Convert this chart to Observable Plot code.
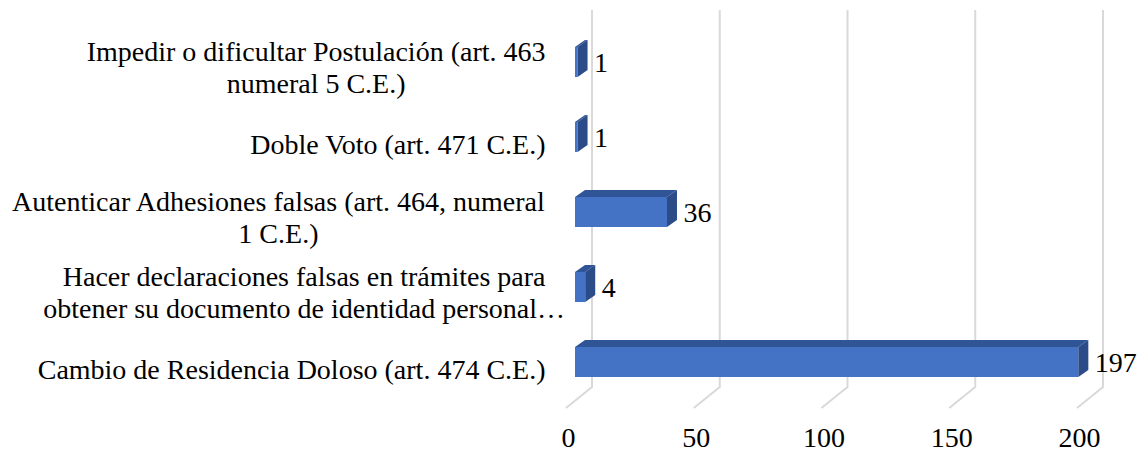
<!DOCTYPE html>
<html><head><meta charset="utf-8">
<script src="https://cdn.jsdelivr.net/npm/d3@7"></script>
<script src="https://cdn.jsdelivr.net/npm/@observablehq/plot@0.6"></script>
<style>html,body{margin:0;padding:0;background:#fff} svg{display:block} svg text{font-family:'Liberation Serif','Times New Roman',serif}</style>
</head><body><div id="chart"></div>
<script>
const categories = [
  "Impedir o dificultar Postulación (art. 463\nnumeral 5 C.E.)",
  "Doble Voto (art. 471 C.E.)",
  "Autenticar Adhesiones falsas (art. 464, numeral\n1 C.E.)",
  "Hacer declaraciones falsas en trámites para\nobtener su documento de identidad personal…",
  "Cambio de Residencia Doloso (art. 474 C.E.)"
];
const values = [1, 1, 36, 4, 197];
const xTicks = [0, 50, 100, 150, 200];

const data = categories.map((c, i) => ({category: c, value: values[i]}));

const FONT = "'Liberation Serif', 'Times New Roman', serif";
const FS = 28;
const FRONT = "#4472C4", TOP = "#2F5597", SIDE = "#2B4C88", GRID = "#D9D9D9";
const BAR_DX = 9;          // bar front plane offset from floor front
const DEPTH_DX = 10, DEPTH_DY = -7;   // bar depth
const WALL_DX = 26, WALL_DY = -21;    // floor depth

const ctx = document.createElement("canvas").getContext("2d");
ctx.font = `${FS}px 'Liberation Serif'`;
const labelGap = 21;

// back wall gridlines + floor diagonals
function wallMark(index, scales, values, dims) {
  const g = d3.create("svg:g");
  const floorFront = dims.height - dims.marginBottom + 7;
  const wallBottom = floorFront + WALL_DY;
  const wallTop = dims.marginTop - 14;
  for (const t of xTicks) {
    const xf = scales.x(t);
    const xb = xf + WALL_DX;
    g.append("path")
      .attr("d", `M${xb},${wallTop}L${xb},${wallBottom}L${xf},${floorFront}`)
      .attr("fill", "none").attr("stroke", GRID).attr("stroke-width", 2);
  }
  return g.node();
}

function facesMark(index, scales, values, dims) {
  const g = d3.create("svg:g");
  const bw = scales.y.bandwidth ? scales.y.bandwidth() : 30;
  for (const d of data) {
    const x0 = scales.x(0) + BAR_DX;
    const xv = scales.x(d.value) + BAR_DX;
    const yt = scales.y(d.category);
    g.append("path")
      .attr("d", `M${x0},${yt}L${xv},${yt}L${xv + DEPTH_DX},${yt + DEPTH_DY}L${x0 + DEPTH_DX},${yt + DEPTH_DY}Z`)
      .attr("fill", TOP);
    g.append("path")
      .attr("d", `M${xv},${yt}L${xv + DEPTH_DX},${yt + DEPTH_DY}L${xv + DEPTH_DX},${yt + bw + DEPTH_DY}L${xv},${yt + bw}Z`)
      .attr("fill", SIDE);
  }
  return g.node();
}

const labelMarks = data.map(d => {
  const lines = d.category.split("\n");
  if (lines.length === 1) {
    return Plot.text([d], {y: "category", text: "category", frameAnchor: "left",
      textAnchor: "end", dx: -labelGap, dy: 6, fontSize: FS, fontFamily: FONT, fill: "#000", lineHeight: 1.15});
  }
  const w = ctx.measureText(lines[0]).width;
  return Plot.text([d], {y: "category", text: "category", frameAnchor: "left",
    textAnchor: "middle", dx: -labelGap - w / 2, dy: 4, fontSize: FS, fontFamily: FONT, fill: "#000", lineHeight: 1.15});
});

const chart = Plot.plot({
  width: 1139,
  height: 452,
  marginLeft: 566,
  marginRight: 62,
  marginTop: 24,
  marginBottom: 51,
  style: {fontFamily: FONT, background: "#fff", color: "#000"},
  x: {domain: [0, 200], axis: null},
  y: {domain: categories, axis: null, paddingInner: 0.595, paddingOuter: 0.3},
  marks: [
    wallMark,
    Plot.barX(data, {x: "value", y: "category", fill: FRONT, dx: BAR_DX}),
    facesMark,
    Plot.text(data, {x: "value", y: "category", text: d => String(d.value), dx: BAR_DX + DEPTH_DX + 6,
      dy: 1, textAnchor: "start", fontSize: FS, fontFamily: FONT, fill: "#000"}),
    Plot.text(xTicks, {x: d => d, text: d => String(d), frameAnchor: "bottom", lineAnchor: "middle", dy: 37, dx: 2,
      fontSize: FS, fontFamily: FONT, fill: "#000"}),
    ...labelMarks
  ]
});
document.getElementById("chart").appendChild(chart);
</script>
</body></html>
